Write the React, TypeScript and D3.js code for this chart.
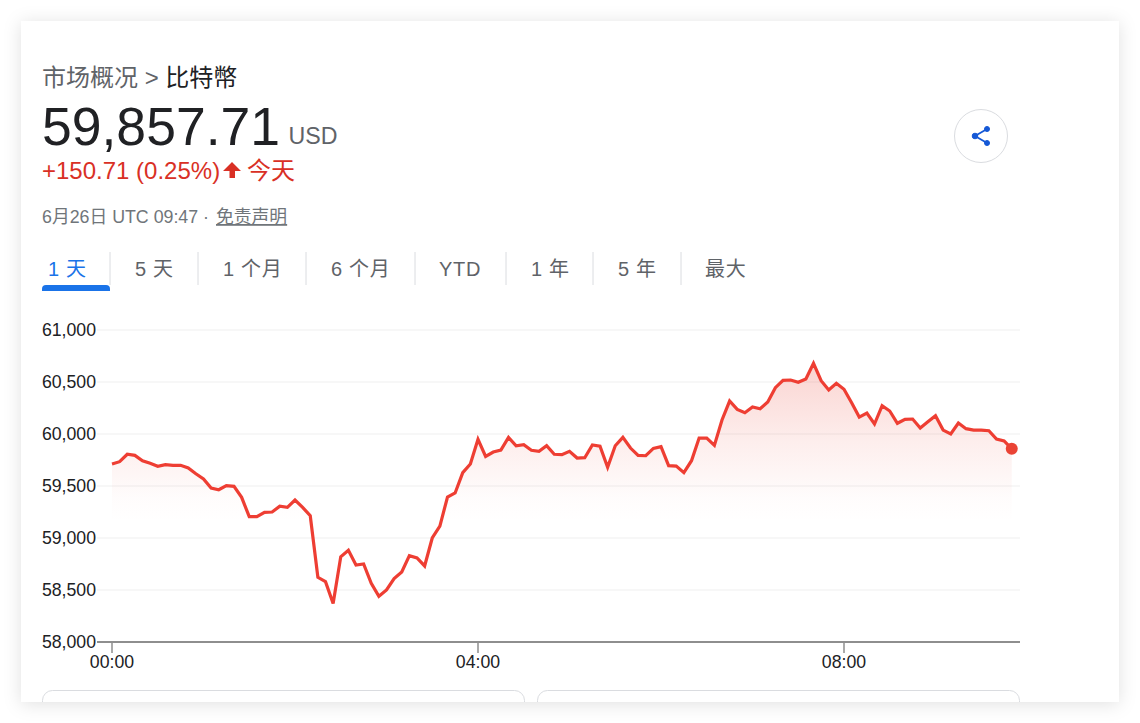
import React from "react";
import * as d3 from "d3";

const minutesStep = 5;
const prices = [
  59712, 59734, 59805, 59795, 59743, 59718, 59689, 59705, 59699, 59699,
  59673, 59618, 59567, 59481, 59464, 59503, 59497, 59391, 59205, 59205,
  59247, 59250, 59305, 59295, 59365, 59295, 59214, 58622, 58580, 58370,
  58820, 58882, 58740, 58750, 58564, 58439, 58500, 58609, 58673, 58830,
  58808, 58731, 59000, 59115, 59394, 59433, 59628, 59711, 59949, 59785,
  59827, 59846, 59968, 59887, 59897, 59843, 59834, 59887, 59805, 59801,
  59834, 59769, 59772, 59894, 59882, 59680, 59887, 59968, 59865, 59795,
  59791, 59862, 59878, 59695, 59692, 59628, 59743, 59961, 59961, 59891,
  60135, 60317, 60237, 60205, 60260, 60243, 60308, 60445, 60516, 60519,
  60497, 60529, 60680, 60512, 60423, 60487, 60430, 60301, 60163, 60202,
  60096, 60272, 60221, 60103, 60141, 60144, 60058, 60118, 60176, 60038,
  60000, 60106, 60051, 60038, 60038, 60032, 59952, 59933, 59858,
];
const yTicks = [58000, 58500, 59000, 59500, 60000, 60500, 61000];
const xTickMinutes = [0, 240, 480];
const xTickLabels = ["00:00", "04:00", "08:00"];
const tabLabels = ["1 天", "5 天", "1 个月", "6 个月", "YTD", "1 年", "5 年", "最大"];
const tabTextX = [48, 135, 223, 331, 439, 531, 618, 705];
const tabSeparators = [110, 198, 306, 415, 506, 593, 681];

const W = 1140;
const H = 723;
const FONT = "Arial, 'Liberation Sans', 'Noto Sans CJK SC', sans-serif";
const RED = "#ea4335";
const LINE_RED = "#ee3e33";

export default function App() {
  const x = d3.scaleLinear().domain([0, 480]).range([112, 844]);
  const y = d3.scaleLinear().domain([58000, 61000]).range([642, 330]);
  const series = prices.map((v, i) => ({ t: i * minutesStep, v }));
  const line = d3.line<{ t: number; v: number }>().x((d) => x(d.t)).y((d) => y(d.v));
  const area = d3
    .area<{ t: number; v: number }>()
    .x((d) => x(d.t))
    .y0(522)
    .y1((d) => Math.min(y(d.v), 522));
  const last = series[series.length - 1];
  const fmt = d3.format(",");

  return (
    <div style={{ position: "absolute", left: 0, top: 0, width: W, height: H, overflow: "hidden", background: "#fff" }}>
      <svg width={W} height={H} style={{ display: "block" }} fontFamily={FONT}>
        <defs>
          <linearGradient id="fade" gradientUnits="userSpaceOnUse" x1="0" x2="0" y1="363" y2="522">
            <stop offset="0" stopColor={RED} stopOpacity={0.23} />
            <stop offset="0.5" stopColor={RED} stopOpacity={0.09} />
            <stop offset="0.85" stopColor={RED} stopOpacity={0.015} />
            <stop offset="1" stopColor={RED} stopOpacity={0} />
          </linearGradient>
          <filter id="cardShadow" x="-5%" y="-5%" width="110%" height="110%">
            <feDropShadow dx="0" dy="2" stdDeviation="9" floodColor="#000" floodOpacity="0.12" />
          </filter>
          <clipPath id="cardClip">
            <rect x={21} y={21} width={1098} height={681} />
          </clipPath>
        </defs>

        <rect x={21} y={21} width={1098} height={681} fill="#fff" filter="url(#cardShadow)" />

        <text x={42} y={85.5} fontSize={24} fill="#5f6368">
          市场概况 &gt; <tspan fill="#202124">比特幣</tspan>
        </text>
        <text x={42} y={145} fontSize={53.5} fill="#202124">59,857.71</text>
        <text x={288.5} y={144} fontSize={23.2} fill="#5f6368">USD</text>
        <text x={42} y={179} fontSize={24} fill="#d93025">+150.71 (0.25%)</text>
        <path d="M232 162L241 171H235V178H229.5V171H223Z" fill="#d93025" />
        <text x={247} y={179} fontSize={24} fill="#d93025">今天</text>
        <text x={42} y={223} fontSize={17.8} fill="#70757a">6月26日 UTC 09:47 · </text>
        <text x={216} y={223} fontSize={17.8} fill="#70757a" textDecoration="underline">免责声明</text>

        <circle cx={981} cy={136} r={26.5} fill="#fff" stroke="#dadce0" strokeWidth={1} />
        <g fill="#1558d6" stroke="#1558d6">
          <line x1={975} y1={136} x2={987} y2={129} strokeWidth={1.8} />
          <line x1={975} y1={136} x2={987} y2={143} strokeWidth={1.8} />
          <circle cx={975} cy={136} r={2.8} />
          <circle cx={987} cy={129} r={2.5} />
          <circle cx={987} cy={143} r={2.5} />
        </g>

        {tabLabels.map((t, i) => (
          <text key={t} x={tabTextX[i]} y={276} fontSize={20} fill={i === 0 ? "#1a73e8" : "#5f6368"} letterSpacing={0.7} xmlSpace="preserve">{t}</text>
        ))}
        {tabSeparators.map((sx) => (
          <line key={sx} x1={sx} x2={sx} y1={252} y2={285} stroke="#dadce0" strokeWidth={1} />
        ))}
        <path d="M42 291V289a4 4 0 0 1 4-4H106a4 4 0 0 1 4 4V291Z" fill="#1a73e8" />

        {yTicks.slice(1).map((v) => (
          <line key={v} x1={97} x2={1020} y1={y(v)} y2={y(v)} stroke="#f5f5f5" strokeWidth={1.5} />
        ))}
        <path d={area(series) ?? ""} fill="url(#fade)" />
        <path d={line(series) ?? ""} fill="none" stroke={LINE_RED} strokeWidth={3.2} strokeLinejoin="miter" />
        <circle cx={x(last.t)} cy={y(last.v)} r={6} fill={RED} />

        <line x1={97} x2={1020} y1={642} y2={642} stroke="#8e8e8e" strokeWidth={2} />
        {xTickMinutes.map((m, i) => (
          <g key={m}>
            <line x1={x(m)} x2={x(m)} y1={642} y2={653} stroke="#8e8e8e" strokeWidth={1.5} />
            <text x={x(m)} y={668} fontSize={17.7} fill="#202124" textAnchor="middle">{xTickLabels[i]}</text>
          </g>
        ))}
        {yTicks.map((v) => (
          <text key={v} x={96} y={y(v) + 6.3} fontSize={17.7} fill="#202124" textAnchor="end">{fmt(v)}</text>
        ))}

        <g clipPath="url(#cardClip)" fill="#fff" stroke="#dadce0" strokeWidth={1}>
          <rect x={42.5} y={690.5} width={482} height={40} rx={10} />
          <rect x={537.5} y={690.5} width={482} height={40} rx={10} />
        </g>
      </svg>
    </div>
  );
}
